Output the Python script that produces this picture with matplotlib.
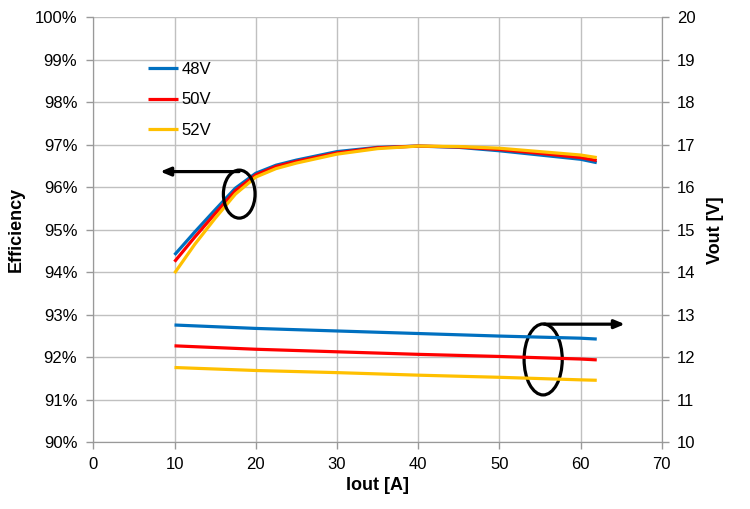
import matplotlib.pyplot as plt
from matplotlib.patches import Ellipse

plt.rcParams["font.family"] = ["Liberation Sans", "DejaVu Sans"]

# Efficiency data (left axis)
iout_eff = [10, 12.5, 15, 17.5, 20, 22.5, 25, 30, 35, 40, 45, 50, 55, 60, 62]
eff_48 = [94.41, 94.95, 95.47, 95.98, 96.33, 96.52, 96.64, 96.84, 96.94, 96.97, 96.94, 96.86, 96.76, 96.66, 96.58]
eff_50 = [94.25, 94.83, 95.38, 95.92, 96.29, 96.49, 96.61, 96.81, 96.93, 96.97, 96.95, 96.89, 96.80, 96.70, 96.63]
eff_52 = [93.98, 94.66, 95.27, 95.84, 96.24, 96.44, 96.57, 96.78, 96.91, 96.97, 96.96, 96.92, 96.84, 96.76, 96.70]

# Output voltage data (right axis)
iout_v = [10, 20, 30, 40, 50, 60, 62]
vout_48 = [12.76, 12.68, 12.62, 12.56, 12.50, 12.45, 12.43]
vout_50 = [12.27, 12.19, 12.13, 12.07, 12.02, 11.96, 11.94]
vout_52 = [11.76, 11.69, 11.64, 11.58, 11.53, 11.47, 11.46]

labels = ["48V", "50V", "52V"]
colors = ["#0070c0", "#ff0000", "#ffc000"]

fig = plt.figure(figsize=(7.5, 5.09), dpi=100)
ax = fig.add_axes([0.1244, 0.131, 0.7579, 0.835])
ax2 = ax.twinx()

grid_c = "#c0c0c0"
spine_c = "#999999"

for eff, c, lab in zip([eff_48, eff_50, eff_52], colors, labels):
    ax.plot(iout_eff, eff, color=c, lw=2.3, label=lab, solid_capstyle="butt", zorder=3)
for v, c in zip([vout_48, vout_50, vout_52], colors):
    ax2.plot(iout_v, v, color=c, lw=2.3, solid_capstyle="butt")

ax.set_xlim(0, 70)
ax.set_ylim(90, 100)
ax.set_xticks(range(0, 71, 10))
ax.set_yticks(range(90, 101))
ax.set_yticklabels([f"{v}%" for v in range(90, 101)])
ax2.set_ylim(10, 20)
ax2.set_yticks(range(10, 21))

ax.grid(True, color=grid_c, lw=1)
ax.set_axisbelow(True)
for a in (ax, ax2):
    a.spines["top"].set_visible(False)
    for s in ("left", "right", "bottom"):
        a.spines[s].set_color(spine_c)
    a.tick_params(colors=spine_c, labelcolor="black", labelsize=12, length=5, width=1)
ax.tick_params(axis="y", pad=6.5)
ax.tick_params(axis="x", pad=5.5)
ax2.tick_params(axis="y", pad=6)

ax.set_xlabel("Iout [A]", fontsize=13, fontweight="bold", labelpad=4)
ax.set_ylabel("Efficiency", fontsize=13, fontweight="bold", labelpad=7)
ax2.set_ylabel("Vout [V]", fontsize=13, fontweight="bold", labelpad=8)

# annotations: ellipses with arrows pointing to the relevant axis
ax.add_patch(Ellipse((17.97, 95.84), 3.9, 1.13, fill=False, ec="black", lw=2.3, zorder=5))
ax.annotate("", xy=(7.9, 96.37), xytext=(18.3, 96.37),
            arrowprops=dict(arrowstyle="-|>,head_length=0.6,head_width=0.25", color="black", lw=2.3),
            zorder=5)
ax.add_patch(Ellipse((55.4, 91.95), 4.7, 1.67, fill=False, ec="black", lw=2.3, zorder=5))
ax.annotate("", xy=(65.8, 92.78), xytext=(55.2, 92.78),
            arrowprops=dict(arrowstyle="-|>,head_length=0.6,head_width=0.25", color="black", lw=2.3),
            zorder=5, annotation_clip=False)

leg = ax.legend(loc="upper left", bbox_to_anchor=(0.07, 0.93), frameon=False,
                fontsize=12, handlelength=1.8, handletextpad=0.2, labelspacing=0.92)

fig.savefig("out.png", dpi=100)
